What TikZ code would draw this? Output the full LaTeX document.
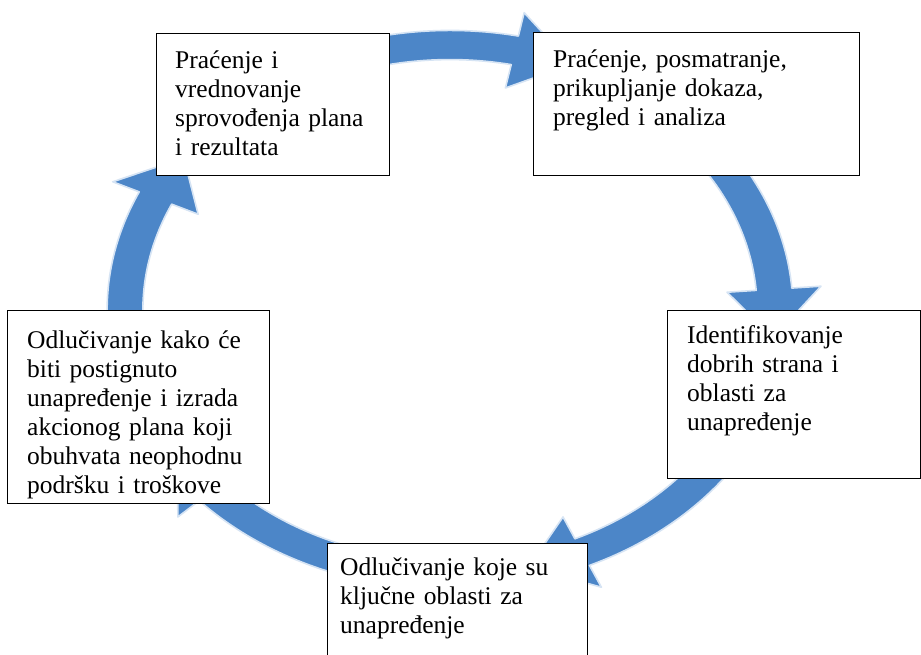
\documentclass[tikz,border=0pt]{standalone}
\usepackage{fontspec}
\setmainfont{Liberation Serif}
\definecolor{cycblue}{RGB}{76,134,200}
\definecolor{cycglow}{RGB}{214,228,244}
\tikzset{
  x=1pt, y=-1pt,
  cyclearrow/.style={fill=cycblue, draw=cycglow, line width=1.6pt, line join=round},
  stagebox/.style={draw=black, line width=1.4pt, fill=white},
  stagetext/.style={anchor=base west, inner sep=0pt, text width=330pt, align=left,
    font=\fontsize{25.5}{29}\selectfont}
}
% #1 tail angle, #2 head base angle, #3 tip angle (parametric, on the ellipse)
\newcommand\cyclearrowpath[3]{%
  plot[domain=#1:#2, samples=40] ({450+325*1.055*cos(\x)},{310-265*1.055*sin(\x)})
  -- ({450+325*1.145*cos(#2)},{310-265*1.145*sin(#2)})
  -- ({450+325*cos(#3)},{310-265*sin(#3)})
  -- ({450+325*0.855*cos(#2)},{310-265*0.855*sin(#2)})
  -- plot[domain=#2:#1, samples=40] ({450+325*0.945*cos(\x)},{310-265*0.945*sin(\x)})
  -- cycle}
\begin{document}
\begin{tikzpicture}
\useasboundingbox (0,0) rectangle (921,654);
\clip (0,0) rectangle (921,654);
\fill[white] (0,0) rectangle (921,654);

% cycle arrows
\path[cyclearrow] \cyclearrowpath{105}{78.5}{68};
\path[cyclearrow] \cyclearrowpath{40}{4.5}{-6};
\path[cyclearrow] \cyclearrowpath{-35}{-66}{-76};
\path[cyclearrow] \cyclearrowpath{-105}{-137}{-147};
\path[cyclearrow] \cyclearrowpath{185}{155}{145};

% boxes
\node[stagebox, inner sep=0pt, anchor=north west, minimum width=233pt, minimum height=142pt] (boxA) at (156,33) {};
\node[stagebox, inner sep=0pt, anchor=north west, minimum width=326pt, minimum height=143pt] (boxB) at (533,32) {};
\node[stagebox, inner sep=0pt, anchor=north west, minimum width=253pt, minimum height=168pt] (boxC) at (667,310) {};
\node[stagebox, inner sep=0pt, anchor=north west, minimum width=260pt, minimum height=130pt] (boxD) at (327,543) {};
\node[stagebox, inner sep=0pt, anchor=north west, minimum width=262pt, minimum height=193pt] (boxE) at (7,310) {};

% texts
\node[stagetext] (txtA) at (175,68) {Praćenje i\\vrednovanje\\sprovođenja plana\\i rezultata};
\node[stagetext] (txtB) at (553,67) {Praćenje, posmatranje,\\prikupljanje dokaza,\\pregled i analiza};
\node[stagetext] (txtC) at (687,343) {Identifikovanje\\dobrih strana i\\oblasti za\\unapređenje};
\node[stagetext] (txtD) at (340,575) {Odlučivanje koje su\\ključne oblasti za\\unapređenje};
\node[stagetext] (txtE) at (27,348) {Odlučivanje kako će\\biti postignuto\\unapređenje i izrada\\akcionog plana koji\\obuhvata neophodnu\\podršku i troškove};
\end{tikzpicture}
\end{document}
